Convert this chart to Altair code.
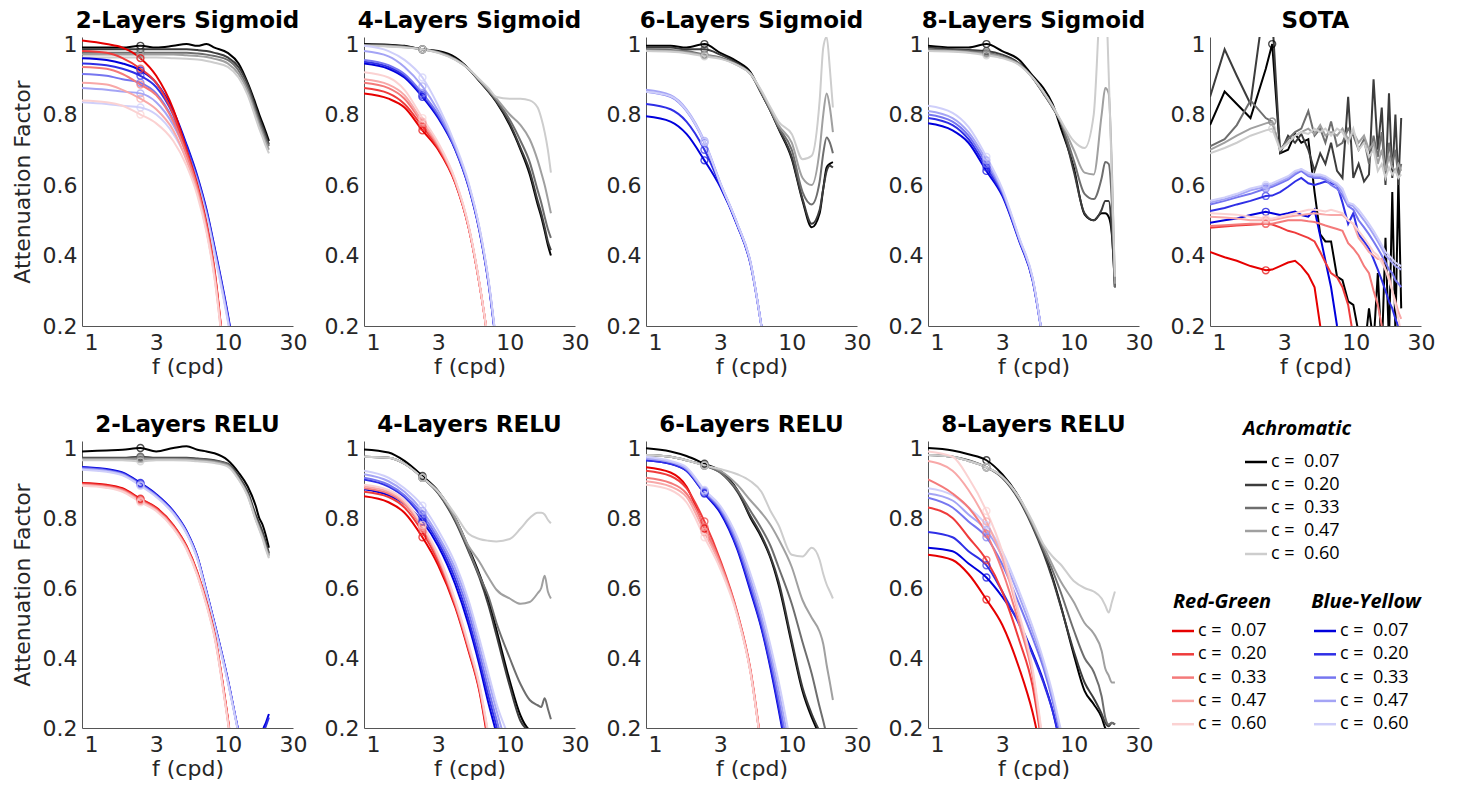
import altair as alt
import pandas as pd

# ---------------- frequency grids ----------------
F = [0.86, 1.3, 1.7, 2.3, 3, 4, 5, 6, 7, 8, 10, 12, 14, 16, 17, 18, 19, 20]
F_SOTA = [0.86, 1.1, 1.35, 1.7, 2.2, 2.45, 2.8, 3.2, 3.6, 4.0, 4.5, 5.0, 5.5, 6.0, 6.6, 7.3,
          8.0, 8.8, 9.6, 10.5, 11.5, 12.5, 13.5, 14.5, 15.5, 16.5, 17.5, 18.5, 19.5, 20.5, 21.5]

LEVELS = ["0.07", "0.20", "0.33", "0.47", "0.60"]
GRAYS = ["#000000", "#3c3c3c", "#6e6e6e", "#a0a0a0", "#cdcdcd"]
REDS = ["#e60000", "#ef3b3b", "#f47a7a", "#f8a8a8", "#fbd2d2"]
BLUES = ["#0000dc", "#2f2fe6", "#7676f0", "#a4a4f5", "#cfcffa"]
X_TICKS = [1, 3, 10, 30]
Y_TICKS = [0.2, 0.4, 0.6, 0.8, 1.0]
TITLES = ["2-Layers Sigmoid", "4-Layers Sigmoid", "6-Layers Sigmoid", "8-Layers Sigmoid", "SOTA",
          "2-Layers RELU", "4-Layers RELU", "6-Layers RELU", "8-Layers RELU"]
GROUP_NAMES = ["Achromatic", "Red-Green", "Blue-Yellow"]

# ---------------- 2-Layers Sigmoid ----------------
SIG2_ACH = [
    [0.99, 0.99, 0.99, 0.995, 0.99, 0.995, 1.0, 0.995, 1.0, 0.99, 0.975, 0.945, 0.89, 0.83, 0.80, 0.775, 0.75, 0.725],
    [0.985, 0.985, 0.985, 0.985, 0.985, 0.985, 0.985, 0.983, 0.98, 0.975, 0.962, 0.935, 0.885, 0.82, 0.79, 0.765, 0.74, 0.715],
    [0.975, 0.975, 0.975, 0.975, 0.975, 0.975, 0.975, 0.973, 0.97, 0.966, 0.955, 0.925, 0.875, 0.81, 0.78, 0.755, 0.73, 0.71],
    [0.97, 0.97, 0.97, 0.97, 0.97, 0.97, 0.968, 0.966, 0.963, 0.958, 0.945, 0.915, 0.865, 0.80, 0.77, 0.745, 0.72, 0.70],
    [0.962, 0.962, 0.962, 0.962, 0.962, 0.96, 0.958, 0.956, 0.952, 0.947, 0.935, 0.905, 0.855, 0.79, 0.76, 0.735, 0.71, 0.69],
]
SIG2_RG = [
    [1.01, 1.0, 0.99, 0.96, 0.91, 0.815, 0.70, 0.60, 0.49, 0.36, 0.0],
    [0.98, 0.975, 0.96, 0.93, 0.89, 0.80, 0.695, 0.595, 0.485, 0.355, 0.0],
    [0.935, 0.93, 0.915, 0.885, 0.855, 0.78, 0.685, 0.59, 0.48, 0.35, 0.0],
    [0.89, 0.885, 0.87, 0.845, 0.815, 0.755, 0.67, 0.58, 0.47, 0.34, 0.0],
    [0.84, 0.835, 0.825, 0.80, 0.775, 0.725, 0.655, 0.57, 0.465, 0.335, 0.0],
]
SIG2_BY = [
    [0.96, 0.955, 0.945, 0.925, 0.89, 0.81, 0.715, 0.625, 0.53, 0.425, 0.235, 0.05],
    [0.945, 0.94, 0.93, 0.91, 0.878, 0.80, 0.71, 0.62, 0.525, 0.42, 0.23, 0.05],
    [0.915, 0.91, 0.90, 0.89, 0.86, 0.785, 0.70, 0.615, 0.52, 0.415, 0.225, 0.04],
    [0.875, 0.87, 0.865, 0.86, 0.835, 0.77, 0.69, 0.61, 0.515, 0.41, 0.22, 0.04],
    [0.835, 0.83, 0.825, 0.82, 0.80, 0.745, 0.675, 0.60, 0.51, 0.405, 0.215, 0.03],
]

# ---------------- 4-Layers Sigmoid ----------------
SIG4_ACH = [
    [1.0, 0.998, 0.995, 0.985, 0.98, 0.962, 0.93, 0.895, 0.865, 0.835, 0.77, 0.70, 0.63, 0.545, 0.51, 0.47, 0.43, 0.40],
    [0.998, 0.996, 0.993, 0.985, 0.978, 0.958, 0.93, 0.895, 0.865, 0.837, 0.775, 0.705, 0.64, 0.555, 0.52, 0.48, 0.44, 0.415],
    [0.997, 0.995, 0.992, 0.985, 0.977, 0.957, 0.93, 0.897, 0.868, 0.84, 0.785, 0.725, 0.665, 0.585, 0.55, 0.51, 0.475, 0.45],
    [0.996, 0.994, 0.991, 0.985, 0.976, 0.956, 0.93, 0.898, 0.87, 0.845, 0.80, 0.77, 0.73, 0.67, 0.635, 0.60, 0.56, 0.52],
    [0.995, 0.993, 0.99, 0.985, 0.975, 0.955, 0.93, 0.90, 0.875, 0.85, 0.845, 0.845, 0.84, 0.82, 0.79, 0.75, 0.70, 0.635],
]
SIG4_RG = [
    [0.86, 0.845, 0.82, 0.755, 0.70, 0.605, 0.48, 0.32, 0.15],
    [0.875, 0.86, 0.83, 0.765, 0.705, 0.607, 0.48, 0.32, 0.15],
    [0.89, 0.875, 0.845, 0.775, 0.71, 0.61, 0.482, 0.32, 0.15],
    [0.90, 0.885, 0.855, 0.78, 0.715, 0.612, 0.484, 0.322, 0.15],
    [0.92, 0.905, 0.87, 0.79, 0.72, 0.615, 0.486, 0.324, 0.15],
]
SIG4_BY = [
    [0.945, 0.93, 0.905, 0.85, 0.79, 0.70, 0.595, 0.47, 0.32, 0.14],
    [0.95, 0.935, 0.91, 0.855, 0.795, 0.702, 0.597, 0.472, 0.322, 0.142],
    [0.955, 0.94, 0.915, 0.86, 0.80, 0.705, 0.60, 0.475, 0.325, 0.145],
    [0.98, 0.965, 0.935, 0.88, 0.81, 0.71, 0.603, 0.478, 0.328, 0.148],
    [0.995, 0.98, 0.955, 0.905, 0.825, 0.715, 0.607, 0.48, 0.33, 0.15],
]

# ---------------- 6-Layers Sigmoid ----------------
SIG6_ACH = [
    [0.995, 0.995, 0.99, 1.0, 0.975, 0.95, 0.92, 0.86, 0.81, 0.76, 0.675, 0.555, 0.48, 0.52, 0.59, 0.65, 0.66, 0.665],
    [0.99, 0.99, 0.985, 0.985, 0.97, 0.945, 0.915, 0.86, 0.81, 0.762, 0.68, 0.56, 0.49, 0.53, 0.59, 0.64, 0.655, 0.65],
    [0.985, 0.983, 0.98, 0.97, 0.962, 0.942, 0.915, 0.862, 0.812, 0.765, 0.70, 0.58, 0.545, 0.61, 0.69, 0.735, 0.72, 0.69],
    [0.982, 0.98, 0.976, 0.968, 0.96, 0.94, 0.915, 0.865, 0.815, 0.77, 0.72, 0.62, 0.60, 0.70, 0.80, 0.86, 0.82, 0.75],
    [0.98, 0.978, 0.974, 0.965, 0.958, 0.94, 0.915, 0.868, 0.82, 0.78, 0.745, 0.673, 0.683, 0.84, 0.99, 1.02, 0.93, 0.82],
]
SIG6_RG = []
SIG6_BY = [
    [0.795, 0.78, 0.745, 0.67, 0.595, 0.485, 0.375, 0.2, 0.02],
    [0.83, 0.815, 0.78, 0.70, 0.60, 0.487, 0.377, 0.2, 0.02],
    [0.865, 0.85, 0.81, 0.72, 0.605, 0.49, 0.38, 0.2, 0.02],
    [0.87, 0.855, 0.815, 0.725, 0.607, 0.49, 0.38, 0.2, 0.02],
    [0.865, 0.852, 0.812, 0.722, 0.606, 0.49, 0.38, 0.2, 0.02],
]

# ---------------- 8-Layers Sigmoid ----------------
SIG8_ACH = [
    [0.995, 0.99, 0.99, 1.0, 0.98, 0.955, 0.91, 0.875, 0.83, 0.765, 0.65, 0.517, 0.50, 0.52, 0.52, 0.51, 0.46, 0.31],
    [0.99, 0.985, 0.983, 0.98, 0.97, 0.945, 0.905, 0.86, 0.82, 0.78, 0.64, 0.52, 0.50, 0.53, 0.555, 0.555, 0.47, 0.31],
    [0.985, 0.982, 0.98, 0.975, 0.965, 0.943, 0.905, 0.86, 0.82, 0.78, 0.67, 0.575, 0.56, 0.62, 0.665, 0.66, 0.55, 0.31],
    [0.982, 0.98, 0.977, 0.972, 0.963, 0.942, 0.905, 0.862, 0.822, 0.782, 0.70, 0.635, 0.63, 0.80, 0.875, 0.86, 0.65, 0.32],
    [0.98, 0.978, 0.975, 0.968, 0.96, 0.94, 0.905, 0.865, 0.825, 0.785, 0.725, 0.705, 0.80, 1.15, 1.15, 0.92, 0.62, 0.34],
]
SIG8_RG = []
SIG8_BY = [
    [0.775, 0.755, 0.72, 0.64, 0.57, 0.44, 0.33, 0.15],
    [0.79, 0.77, 0.73, 0.65, 0.575, 0.443, 0.332, 0.15],
    [0.80, 0.78, 0.74, 0.66, 0.58, 0.445, 0.334, 0.15],
    [0.81, 0.79, 0.75, 0.67, 0.585, 0.448, 0.336, 0.15],
    [0.825, 0.805, 0.765, 0.68, 0.59, 0.45, 0.338, 0.15],
]

# ---------------- SOTA ----------------
SOTA_ACH = [
    [0.77, 0.865, 0.83, 0.79, 0.93, 1.0, 0.69, 0.70, 0.745, 0.72, 0.73, 0.58, 0.46, 0.44, 0.44, 0.34, 0.33, 0.27, 0.26,
     0.18, 0.12, 0.25, 0.15, 0.35, 0.12, 0.45, 0.15, 0.58, 0.18, 0.62, 0.25],
    [0.85, 0.985, 0.91, 0.83, 1.15, 1.08, 0.69, 0.74, 0.72, 0.745, 0.70, 0.64, 0.69, 0.66, 0.72, 0.64, 0.62, 0.85, 0.62,
     0.66, 0.61, 0.63, 0.90, 0.70, 0.82, 0.60, 0.86, 0.62, 0.80, 0.60, 0.79],
    [0.71, 0.73, 0.77, 0.84, 0.79, 0.78, 0.70, 0.73, 0.75, 0.76, 0.81, 0.74, 0.76, 0.72, 0.78, 0.71, 0.72, 0.76, 0.74,
     0.70, 0.73, 0.66, 0.74, 0.68, 0.75, 0.62, 0.72, 0.66, 0.70, 0.62, 0.66],
    [0.70, 0.72, 0.74, 0.76, 0.775, 0.78, 0.70, 0.72, 0.74, 0.75, 0.76, 0.745, 0.77, 0.74, 0.75, 0.74, 0.76, 0.73, 0.75,
     0.72, 0.74, 0.70, 0.72, 0.66, 0.70, 0.64, 0.68, 0.65, 0.64, 0.66, 0.64],
    [0.69, 0.705, 0.72, 0.74, 0.755, 0.76, 0.70, 0.72, 0.74, 0.75, 0.745, 0.76, 0.75, 0.76, 0.74, 0.76, 0.75, 0.72, 0.76,
     0.70, 0.72, 0.68, 0.70, 0.64, 0.66, 0.62, 0.65, 0.63, 0.64, 0.62, 0.63],
]
SOTA_RG = [
    [0.41, 0.395, 0.385, 0.37, 0.358, 0.36, 0.37, 0.38, 0.385, 0.37, 0.345, 0.31, 0.20, 0.10],
    [0.479, 0.482, 0.485, 0.487, 0.49, 0.488, 0.48, 0.47, 0.465, 0.458, 0.45, 0.44, 0.41, 0.38, 0.35, 0.338, 0.31,
     0.26, 0.17],
    [0.484, 0.486, 0.488, 0.49, 0.49, 0.49, 0.495, 0.50, 0.50, 0.50, 0.497, 0.495, 0.49, 0.485, 0.48, 0.475, 0.47,
     0.435, 0.42, 0.40, 0.37, 0.35, 0.30, 0.26, 0.20, 0.15],
    [0.51, 0.508, 0.505, 0.50, 0.50, 0.50, 0.505, 0.51, 0.513, 0.515, 0.518, 0.52, 0.518, 0.516, 0.515, 0.515, 0.515,
     0.50, 0.49, 0.45, 0.43, 0.41, 0.40, 0.39, 0.39, 0.36, 0.34, 0.30, 0.27, 0.24, 0.22],
    [0.52, 0.518, 0.516, 0.51, 0.505, 0.505, 0.51, 0.515, 0.52, 0.525, 0.53, 0.53, 0.528, 0.525, 0.53, 0.525, 0.52,
     0.50, 0.49, 0.47, 0.45, 0.43, 0.41, 0.40, 0.38, 0.36, 0.33, 0.30, 0.26, 0.22, 0.18],
]
SOTA_BY = [
    [0.493, 0.50, 0.505, 0.515, 0.524, 0.52, 0.515, 0.52, 0.525, 0.515, 0.51, 0.53, 0.455, 0.385, 0.31, 0.20, 0.12],
    [0.526, 0.535, 0.545, 0.555, 0.569, 0.57, 0.58, 0.595, 0.61, 0.62, 0.605, 0.60, 0.605, 0.61, 0.605, 0.60, 0.55,
     0.49, 0.52, 0.46, 0.44, 0.42, 0.39, 0.36, 0.33, 0.30, 0.27, 0.25, 0.22, 0.20, 0.18],
    [0.545, 0.555, 0.565, 0.575, 0.59, 0.595, 0.605, 0.615, 0.63, 0.64, 0.625, 0.62, 0.62, 0.615, 0.60, 0.59, 0.57,
     0.54, 0.53, 0.50, 0.48, 0.46, 0.44, 0.42, 0.40, 0.38, 0.36, 0.35, 0.33, 0.32, 0.31],
    [0.55, 0.56, 0.57, 0.585, 0.595, 0.60, 0.61, 0.62, 0.635, 0.645, 0.63, 0.625, 0.625, 0.62, 0.61, 0.60, 0.58,
     0.545, 0.54, 0.52, 0.50, 0.48, 0.46, 0.44, 0.42, 0.40, 0.39, 0.38, 0.37, 0.365, 0.36],
    [0.555, 0.565, 0.575, 0.59, 0.60, 0.605, 0.615, 0.625, 0.64, 0.645, 0.635, 0.63, 0.63, 0.625, 0.615, 0.605, 0.59,
     0.55, 0.545, 0.53, 0.51, 0.49, 0.47, 0.45, 0.43, 0.41, 0.40, 0.39, 0.38, 0.375, 0.37],
]

# ---------------- 2-Layers RELU ----------------
RELU2_ACH = [
    [0.99, 0.993, 0.995, 1.0, 0.99, 1.0, 1.005, 0.995, 0.99, 0.985, 0.965, 0.93, 0.89, 0.835, 0.80, 0.78, 0.75, 0.715],
    [0.972, 0.972, 0.972, 0.975, 0.972, 0.972, 0.972, 0.97, 0.968, 0.965, 0.955, 0.92, 0.875, 0.81, 0.785, 0.76, 0.73, 0.70],
    [0.97, 0.97, 0.97, 0.972, 0.97, 0.97, 0.97, 0.968, 0.966, 0.963, 0.953, 0.915, 0.868, 0.80, 0.775, 0.75, 0.72, 0.695],
    [0.968, 0.968, 0.968, 0.968, 0.968, 0.968, 0.967, 0.965, 0.963, 0.96, 0.95, 0.912, 0.865, 0.797, 0.77, 0.745, 0.715, 0.69],
    [0.965, 0.965, 0.965, 0.962, 0.965, 0.965, 0.964, 0.962, 0.96, 0.957, 0.947, 0.91, 0.862, 0.795, 0.767, 0.74, 0.71, 0.685],
]
RELU2_RG = [
    [0.90, 0.895, 0.885, 0.855, 0.83, 0.78, 0.72, 0.645, 0.56, 0.47, 0.23, 0.0],
    [0.898, 0.893, 0.882, 0.853, 0.828, 0.778, 0.718, 0.643, 0.558, 0.468, 0.228, 0.0],
    [0.896, 0.89, 0.88, 0.85, 0.825, 0.775, 0.715, 0.64, 0.555, 0.465, 0.225, 0.0],
    [0.894, 0.888, 0.877, 0.848, 0.822, 0.772, 0.712, 0.637, 0.552, 0.462, 0.222, 0.0],
    [0.892, 0.886, 0.875, 0.845, 0.82, 0.77, 0.71, 0.635, 0.55, 0.46, 0.22, 0.0],
]
RELU2_BY = [
    [0.946, 0.94, 0.93, 0.90, 0.868, 0.82, 0.763, 0.69, 0.59, 0.50, 0.34, 0.19, 0.08, 0.06, 0.12, 0.19, 0.215, 0.24],
    [0.944, 0.938, 0.928, 0.898, 0.866, 0.818, 0.761, 0.688, 0.588, 0.498, 0.338, 0.188, 0.08, 0.06, 0.11, 0.18, 0.205, 0.23],
    [0.942, 0.936, 0.926, 0.896, 0.864, 0.816, 0.759, 0.686, 0.586, 0.496, 0.336, 0.186, 0.05],
    [0.94, 0.934, 0.924, 0.894, 0.862, 0.814, 0.757, 0.684, 0.584, 0.494, 0.334, 0.184, 0.05],
    [0.938, 0.932, 0.922, 0.892, 0.86, 0.812, 0.755, 0.682, 0.582, 0.492, 0.332, 0.182, 0.05],
]

# ---------------- 4-Layers RELU ----------------
RELU4_ACH = [
    [0.996, 0.987, 0.963, 0.92, 0.877, 0.80, 0.715, 0.64, 0.565, 0.48, 0.335, 0.235, 0.195, 0.19],
    [0.975, 0.972, 0.955, 0.915, 0.87, 0.79, 0.705, 0.63, 0.55, 0.465, 0.32, 0.22, 0.19],
    [0.975, 0.972, 0.955, 0.915, 0.872, 0.795, 0.71, 0.635, 0.575, 0.50, 0.40, 0.325, 0.28, 0.265, 0.26, 0.285, 0.255, 0.225],
    [0.975, 0.972, 0.955, 0.915, 0.875, 0.80, 0.72, 0.675, 0.63, 0.595, 0.57, 0.555, 0.56, 0.585, 0.60, 0.635, 0.59, 0.57],
    [0.975, 0.972, 0.955, 0.915, 0.875, 0.81, 0.755, 0.74, 0.735, 0.733, 0.74, 0.77, 0.80, 0.815, 0.815, 0.81, 0.795, 0.785],
]
RELU4_RG = [
    [0.862, 0.845, 0.815, 0.745, 0.665, 0.545, 0.42, 0.305, 0.15],
    [0.875, 0.86, 0.83, 0.76, 0.675, 0.55, 0.425, 0.31, 0.16],
    [0.885, 0.87, 0.84, 0.77, 0.685, 0.555, 0.43, 0.315, 0.17],
    [0.89, 0.875, 0.845, 0.775, 0.69, 0.56, 0.435, 0.32, 0.175],
    [0.895, 0.88, 0.85, 0.78, 0.695, 0.565, 0.44, 0.325, 0.18],
]
RELU4_BY = [
    [0.882, 0.865, 0.84, 0.79, 0.72, 0.61, 0.495, 0.38, 0.27, 0.185, 0.05],
    [0.91, 0.89, 0.86, 0.80, 0.73, 0.625, 0.51, 0.395, 0.29, 0.205, 0.05],
    [0.915, 0.895, 0.865, 0.81, 0.74, 0.64, 0.53, 0.415, 0.31, 0.225, 0.08],
    [0.925, 0.905, 0.875, 0.82, 0.75, 0.655, 0.55, 0.435, 0.335, 0.25, 0.12],
    [0.935, 0.915, 0.885, 0.835, 0.765, 0.67, 0.565, 0.455, 0.355, 0.27, 0.17],
]

# ---------------- 6-Layers RELU ----------------
RELU6_ACH = [
    [0.999, 0.99, 0.977, 0.955, 0.935, 0.88, 0.80, 0.745, 0.685, 0.61, 0.44, 0.305, 0.23, 0.18],
    [0.98, 0.975, 0.965, 0.95, 0.93, 0.875, 0.805, 0.75, 0.69, 0.62, 0.45, 0.315, 0.24, 0.19],
    [0.98, 0.975, 0.965, 0.95, 0.93, 0.88, 0.82, 0.77, 0.72, 0.66, 0.555, 0.445, 0.355, 0.26, 0.22, 0.18],
    [0.98, 0.975, 0.965, 0.95, 0.935, 0.895, 0.85, 0.815, 0.78, 0.74, 0.66, 0.565, 0.515, 0.475, 0.44, 0.38, 0.33, 0.28],
    [0.98, 0.975, 0.965, 0.95, 0.94, 0.925, 0.905, 0.875, 0.82, 0.78, 0.695, 0.69, 0.715, 0.68, 0.64, 0.61, 0.59, 0.57],
]
RELU6_RG = [
    [0.945, 0.93, 0.89, 0.77, 0.67, 0.525, 0.36, 0.14],
    [0.935, 0.92, 0.885, 0.79, 0.68, 0.53, 0.365, 0.145],
    [0.915, 0.90, 0.87, 0.775, 0.672, 0.527, 0.362, 0.142],
    [0.905, 0.89, 0.86, 0.76, 0.665, 0.523, 0.36, 0.14],
    [0.895, 0.88, 0.845, 0.745, 0.655, 0.52, 0.357, 0.138],
]
RELU6_BY = [
    [0.965, 0.955, 0.935, 0.87, 0.815, 0.71, 0.59, 0.485, 0.37, 0.255, 0.05],
    [0.965, 0.955, 0.935, 0.872, 0.82, 0.715, 0.597, 0.49, 0.378, 0.265, 0.06],
    [0.97, 0.96, 0.94, 0.875, 0.825, 0.725, 0.61, 0.505, 0.395, 0.285, 0.08],
    [0.97, 0.96, 0.94, 0.878, 0.83, 0.735, 0.625, 0.52, 0.415, 0.31, 0.11],
    [0.975, 0.963, 0.945, 0.88, 0.835, 0.745, 0.64, 0.54, 0.435, 0.335, 0.14],
]

# ---------------- 8-Layers RELU ----------------
RELU8_ACH = [
    [1.0, 0.993, 0.982, 0.965, 0.925, 0.858, 0.782, 0.706, 0.63, 0.553, 0.41, 0.306, 0.268, 0.23, 0.20, 0.19, 0.19, 0.18],
    [0.98, 0.975, 0.965, 0.945, 0.915, 0.85, 0.775, 0.70, 0.625, 0.55, 0.42, 0.33, 0.285, 0.24, 0.215, 0.205, 0.215, 0.21],
    [0.98, 0.975, 0.963, 0.945, 0.918, 0.855, 0.78, 0.71, 0.65, 0.59, 0.48, 0.40, 0.36, 0.29, 0.23, 0.21, 0.215, 0.21],
    [0.98, 0.975, 0.963, 0.945, 0.918, 0.855, 0.785, 0.72, 0.665, 0.62, 0.56, 0.50, 0.47, 0.42, 0.37, 0.35, 0.33, 0.33],
    [0.98, 0.975, 0.963, 0.945, 0.918, 0.858, 0.79, 0.725, 0.69, 0.668, 0.62, 0.60, 0.59, 0.57, 0.55, 0.53, 0.56, 0.59],
]
RELU8_RG = [
    [0.695, 0.68, 0.64, 0.567, 0.495, 0.37, 0.245, 0.1],
    [0.83, 0.80, 0.745, 0.68, 0.59, 0.45, 0.32, 0.12],
    [0.91, 0.87, 0.83, 0.755, 0.65, 0.495, 0.35, 0.13],
    [0.963, 0.935, 0.88, 0.79, 0.685, 0.515, 0.36, 0.14],
    [0.99, 0.975, 0.915, 0.82, 0.705, 0.525, 0.37, 0.15],
]
RELU8_BY = [
    [0.715, 0.705, 0.67, 0.63, 0.575, 0.50, 0.415, 0.335, 0.25, 0.15],
    [0.76, 0.745, 0.705, 0.665, 0.59, 0.495, 0.41, 0.33, 0.25, 0.16],
    [0.858, 0.83, 0.79, 0.745, 0.668, 0.553, 0.458, 0.372, 0.278, 0.18],
    [0.87, 0.85, 0.81, 0.765, 0.69, 0.575, 0.475, 0.385, 0.29, 0.19],
    [0.885, 0.865, 0.83, 0.78, 0.705, 0.59, 0.49, 0.395, 0.30, 0.20, 0.05],
]

# ---------------- chart construction ----------------
KEYS = [f"{g}{i}" for g in "ARB" for i in range(5)]
COLORS = GRAYS + REDS + BLUES

FONT = "DejaVu Sans"
TEXT_COLOR = "#262626"
PANEL_W = 211
ROW_H = [289, 287]


def build_frames(freqs, ach, rg, by, mark_idx):
    line_rows, mark_rows = [], []
    for code, lists, midx in (("A", ach, mark_idx[0]), ("B", by, mark_idx[2]), ("R", rg, mark_idx[1])):
        for li, vals in enumerate(lists):
            key = f"{code}{li}"
            for i, v in enumerate(vals):
                row = {"f": freqs[i], "v": v, "key": key}
                line_rows.append(row)
                if i == midx:
                    mark_rows.append(row)
    return pd.DataFrame(line_rows), pd.DataFrame(mark_rows)


def panel(title, freqs, ach, rg, by, interp, mark_idx, first_col, height):
    lines_df, marks_df = build_frames(freqs, ach, rg, by, mark_idx)
    x = alt.X("f:Q",
              scale=alt.Scale(type="log", domain=[0.86, 30], nice=False),
              axis=alt.Axis(values=X_TICKS, format="~g", title="f (cpd)", grid=False, ticks=False,
                            labelFlush=False, labelOverlap=False, labelFont=FONT, labelFontSize=22,
                            labelColor=TEXT_COLOR, labelPadding=6, titleFont=FONT, titleFontSize=22,
                            titleFontWeight="normal", titleColor=TEXT_COLOR, titlePadding=3,
                            domainColor="#555555"))
    y = alt.Y("v:Q",
              scale=alt.Scale(domain=[0.2, 1.02], nice=False, zero=False),
              axis=alt.Axis(values=Y_TICKS, format="~g",
                            title="Attenuation Factor" if first_col else "",
                            grid=False, ticks=False, labelFlush=False, labelOverlap=False,
                            labelFont=FONT, labelFontSize=22, labelColor=TEXT_COLOR, labelPadding=5,
                            titleFont=FONT, titleFontSize=22, titleFontWeight="normal",
                            titleColor=TEXT_COLOR, titlePadding=8, domainColor="#555555"))
    color = alt.Color("key:N", scale=alt.Scale(domain=KEYS, range=COLORS), legend=None)
    lines = alt.Chart(lines_df).mark_line(clip=True, strokeWidth=2, interpolate=interp).encode(
        x=x, y=y, color=color, detail="key:N")
    pts = alt.Chart(marks_df).mark_point(shape="circle", filled=False, size=48, strokeWidth=1.4,
                                         clip=True).encode(x=x, y=y, color=color)
    return alt.layer(lines, pts).properties(
        width=PANEL_W, height=height,
        title=alt.TitleParams(title, font=FONT, fontSize=23, fontWeight="bold", color="black",
                              anchor="middle", offset=0))


SMOOTH_MARK = (3, 3, 3)
SOTA_MARK = (5, 4, 4)

PANELS = [
    (TITLES[0], F, SIG2_ACH, SIG2_RG, SIG2_BY, "monotone", SMOOTH_MARK),
    (TITLES[1], F, SIG4_ACH, SIG4_RG, SIG4_BY, "monotone", SMOOTH_MARK),
    (TITLES[2], F, SIG6_ACH, SIG6_RG, SIG6_BY, "monotone", SMOOTH_MARK),
    (TITLES[3], F, SIG8_ACH, SIG8_RG, SIG8_BY, "monotone", SMOOTH_MARK),
    (TITLES[4], F_SOTA, SOTA_ACH, SOTA_RG, SOTA_BY, "linear", SOTA_MARK),
    (TITLES[5], F, RELU2_ACH, RELU2_RG, RELU2_BY, "monotone", SMOOTH_MARK),
    (TITLES[6], F, RELU4_ACH, RELU4_RG, RELU4_BY, "monotone", SMOOTH_MARK),
    (TITLES[7], F, RELU6_ACH, RELU6_RG, RELU6_BY, "monotone", SMOOTH_MARK),
    (TITLES[8], F, RELU8_ACH, RELU8_RG, RELU8_BY, "monotone", SMOOTH_MARK),
]

cells = []
for idx, (t, fr, a, r, b, interp, mi) in enumerate(PANELS):
    row = idx // 5
    cells.append(panel(t, fr, a, r, b, interp, mi, idx % 5 == 0, ROW_H[row]))

# ---------------- legend cell ----------------
# layout of legend blocks (pixel units within the legend cell)
LEG_BLOCKS = [
    # name, colors, title x, title y, line x0, line x1, text x, first row y, row step
    (GROUP_NAMES[0], GRAYS, 87, -12, 35, 57, 61, 21, 23),
    (GROUP_NAMES[1], REDS, 12, 161, -38, -16, -12, 190, 23.3),
    (GROUP_NAMES[2], BLUES, 156, 161, 104, 126, 130, 190, 23.3),
]
NBSP = "\u00a0"
leg_rows, leg_titles = [], []
for gi, (name, cols, tx, ty, x0, x1, xt, y0, dy) in enumerate(LEG_BLOCKS):
    leg_titles.append({"name": name, "x": tx, "y": ty})
    for li, lvl in enumerate(LEVELS):
        leg_rows.append({"x0": x0, "x1": x1, "xt": xt, "y": y0 + dy * li,
                         "label": "c" + NBSP + "=" + NBSP + NBSP + lvl, "key": f"{'ARB'[gi]}{li}"})
leg_df = pd.DataFrame(leg_rows)
leg_title_df = pd.DataFrame(leg_titles)

lx = alt.Scale(domain=[0, PANEL_W], range=[0, PANEL_W])
ly = alt.Scale(domain=[0, ROW_H[1]], reverse=True)
leg_color = alt.Color("key:N", scale=alt.Scale(domain=KEYS, range=COLORS), legend=None)

leg_lines = alt.Chart(leg_df).mark_rule(strokeWidth=2.5).encode(
    x=alt.X("x0:Q", scale=lx, axis=None), x2="x1:Q",
    y=alt.Y("y:Q", scale=ly, axis=None), color=leg_color)
leg_text = alt.Chart(leg_df).mark_text(align="left", baseline="middle", font="Open Sans",
                                       fontSize=18, color="black").encode(
    x=alt.X("xt:Q", scale=lx, axis=None), y=alt.Y("y:Q", scale=ly, axis=None), text="label:N")
leg_heads = alt.Chart(leg_title_df).mark_text(align="center", baseline="middle", font="Open Sans",
                                              fontSize=20, fontWeight="bold", fontStyle="italic",
                                              color="black").encode(
    x=alt.X("x:Q", scale=lx, axis=None), y=alt.Y("y:Q", scale=ly, axis=None), text="name:N")
legend_cell = alt.layer(leg_lines, leg_text, leg_heads).properties(width=PANEL_W, height=ROW_H[1])
cells.append(legend_cell)

chart = alt.concat(*cells, columns=5, spacing={"row": 115, "column": 71}, bounds="flush").configure_view(
    stroke=None).properties(padding={"left": 3, "top": 2, "right": 5, "bottom": 5})

chart.save("out.html", embed_options={"renderer": "svg", "actions": False})
